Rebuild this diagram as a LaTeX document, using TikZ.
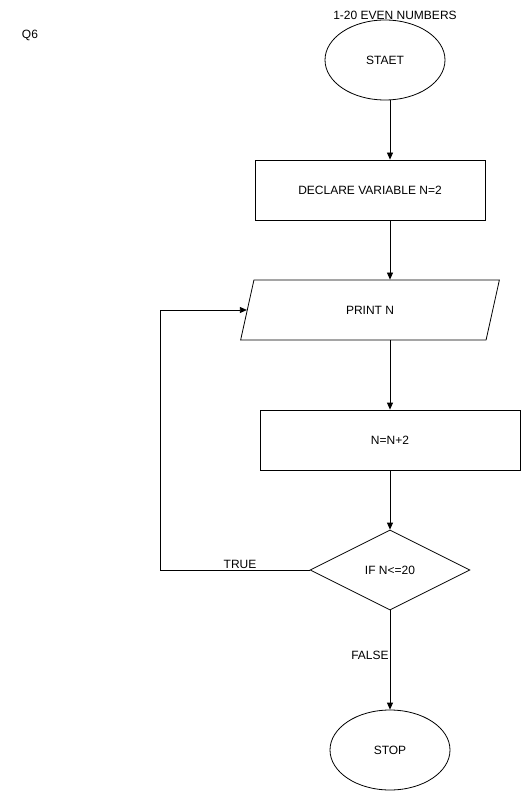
\documentclass[tikz,border=0pt]{standalone}
\usepackage{fontspec}
\setmainfont{Liberation Sans}
\usetikzlibrary{shapes.geometric,arrows.meta}
\begin{document}
\begin{tikzpicture}[x=1pt,y=-1pt,line width=0.8pt,
font=\fontsize{12}{14}\selectfont,
flowline/.style={-{Triangle[length=7pt,width=6pt]}},
oval/.style={ellipse, draw, minimum width=120pt, minimum height=80pt, inner sep=0pt},
box/.style={rectangle, draw, minimum height=60pt, inner sep=0pt}]
\useasboundingbox (0,0) rectangle (521,791);
\node (q) at (30,35) {Q6};
\node (title) at (395,15) {1-20 EVEN NUMBERS};
\node[oval] (start) at (385,60) {STAET};
\node[box, minimum width=230pt] (declare) at (370,190) {DECLARE VARIABLE N=2};
\node[trapezium, draw, trapezium left angle=71.57, trapezium right angle=108.43,
trapezium stretches=true, minimum width=260pt, minimum height=60pt, inner sep=0pt]
(print) at (370,310) {PRINT N};
\node[box, minimum width=260pt] (calc) at (390,440) {N=N+2};
\node[diamond, draw, aspect=2, minimum width=160pt, minimum height=80pt, inner sep=0pt]
(cond) at (390,570) {IF N<=20};
\node[oval] (stop) at (390,750) {STOP};
\coordinate (back) at (160,310);
\draw[flowline] (start.south -| calc) -- (declare.north -| calc);
\draw[flowline] (declare.south -| calc) -- (print.north -| calc);
\draw[flowline] (print.south -| calc) -- (calc.north);
\draw[flowline] (calc.south) -- (cond.north);
\draw[flowline] (cond.west) -| (back) -- (print.left side);
\draw[flowline] (cond.south) -- (stop.north);
\node[anchor=south, inner sep=1pt] (t) at (240,570) {TRUE};
\node[anchor=east, inner sep=1pt] (f) at (390,655) {FALSE};
\end{tikzpicture}
\end{document}
